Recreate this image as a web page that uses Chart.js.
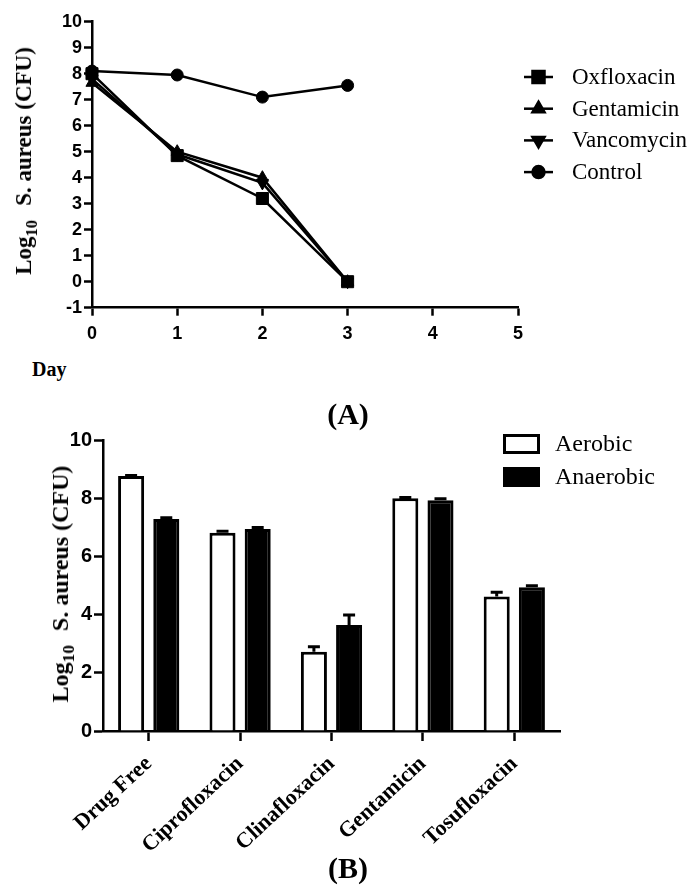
<!DOCTYPE html>
<html>
<head>
<meta charset="utf-8">
<script src="https://cdn.jsdelivr.net/npm/chart.js@4.4.1/dist/chart.umd.min.js"></script>
<style>
  body { margin: 0; background: #fff; width: 694px; height: 892px; position: relative; overflow: hidden; font-family: "Liberation Serif", serif; color: #000; }
  canvas { position: absolute; left: 0; }
  .ytitle { position: absolute; transform: translate(-50%, -50%) rotate(-90deg); white-space: nowrap; font-weight: bold; font-size: 23px; line-height: 24px; }
  .ytitle sub { font-size: 0.72em; vertical-align: -0.35em; line-height: 0; margin-right: 14px; }
  .label { position: absolute; font-weight: bold; white-space: nowrap; }
</style>
</head>
<body>
<canvas id="chartA" width="694" height="350" style="top:0"></canvas>
<canvas id="chartB" width="694" height="440" style="top:420px"></canvas>

<div class="ytitle" style="left:24px; top:161px;">Log<sub>10</sub>S. aureus (CFU)</div>
<div class="label" style="left:32px; top:359px; font-size:20px; line-height:20px;">Day</div>
<div class="label" style="left:298px; top:398px; width:100px; text-align:center; font-size:30px; line-height:32px;">(A)</div>

<div class="ytitle" style="left:60px; top:584px; font-size:24px;">Log<sub>10</sub>S. aureus (CFU)</div>
<div class="label" style="left:298px; top:852px; width:100px; text-align:center; font-size:30px; line-height:32px;">(B)</div>

<script>
"use strict";

// ---- chart A: time course ----
const days = [0, 1, 2, 3];
const oxfloxacin = [8.0, 4.85, 3.2, 0];
const gentamicin = [7.65, 5.0, 4.0, 0];
const vancomycin = [7.8, 4.9, 3.8, 0];
const control = [8.1, 7.95, 7.1, 7.55];

// ---- chart B: aerobic vs anaerobic ----
const drugs = ["Drug Free", "Ciprofloxacin", "Clinafloxacin", "Gentamicin", "Tosufloxacin"];
const aerobic = [8.78, 6.83, 2.73, 8.02, 4.63];
const aerobicErr = [0.02, 0.05, 0.17, 0.02, 0.15];
const anaerobic = [7.3, 6.96, 3.65, 7.95, 4.95];
const anaerobicErr = [0.05, 0.05, 0.35, 0.05, 0.05];

const tickFont = { family: "Liberation Sans", weight: "bold", size: 18 };
const serif = "Liberation Serif";

const toPoints = (vals) => days.map((d, i) => ({ x: d, y: vals[i] }));

function lineSet(label, vals, style, radius, rotation) {
  return {
    label: label,
    data: toPoints(vals),
    borderColor: "#000",
    backgroundColor: "#000",
    borderWidth: 2.5,
    pointStyle: style,
    pointRadius: radius,
    pointRotation: rotation || 0,
    pointBorderWidth: 1,
    tension: 0,
    clip: false,
  };
}

// legend drawn at the right, line + marker like the original figure
const lineLegend = {
  id: "lineLegend",
  afterDraw(chart) {
    const ctx = chart.ctx;
    const x0 = 524, x1 = 553, tx = 572, y0 = 77, dy = 31.7;
    ctx.save();
    chart.data.datasets.forEach((ds, i) => {
      const y = y0 + i * dy;
      ctx.strokeStyle = "#000";
      ctx.lineWidth = 2.5;
      ctx.beginPath();
      ctx.moveTo(x0, y);
      ctx.lineTo(x1, y);
      ctx.stroke();
      ctx.fillStyle = "#000";
      Chart.helpers.drawPoint(ctx, {
        pointStyle: ds.pointStyle,
        radius: ds.pointRadius,
        rotation: ds.pointRotation,
        borderWidth: 1,
      }, (x0 + x1) / 2, y);
      ctx.font = "23px " + serif;
      ctx.textAlign = "left";
      ctx.textBaseline = "middle";
      ctx.fillText(ds.label, tx, y + 1);
    });
    ctx.restore();
  },
};

new Chart(document.getElementById("chartA"), {
  type: "line",
  data: {
    datasets: [
      lineSet("Oxfloxacin", oxfloxacin, "rect", 8.5),
      lineSet("Gentamicin", gentamicin, "triangle", 7),
      lineSet("Vancomycin", vancomycin, "triangle", 7, 180),
      lineSet("Control", control, "circle", 6),
    ],
  },
  options: {
    responsive: false,
    animation: false,
    layout: { autoPadding: false, padding: { top: 21.7, right: 176, left: 0, bottom: 0 } },
    plugins: { legend: { display: false }, tooltip: { enabled: false } },
    scales: {
      x: {
        type: "linear",
        min: 0,
        max: 5,
        afterFit: (s) => { s.height = 42.3; },
        ticks: { stepSize: 1, color: "#000", font: tickFont, padding: 8 },
        grid: { drawOnChartArea: false, tickLength: 8, tickWidth: 2.5, tickColor: "#000" },
        border: { color: "#000", width: 2.5 },
      },
      y: {
        min: -1,
        max: 10,
        afterFit: (s) => { s.width = 92; },
        ticks: { stepSize: 1, color: "#000", font: tickFont, padding: 2 },
        grid: { drawOnChartArea: false, tickLength: 8, tickWidth: 2.5, tickColor: "#000" },
        border: { color: "#000", width: 2.5 },
      },
    },
  },
  plugins: [lineLegend],
});

// error bars (upper half only) drawn on top of each bar
const errorBars = {
  id: "errorBars",
  afterDatasetsDraw(chart) {
    const ctx = chart.ctx;
    const yScale = chart.scales.y;
    ctx.save();
    ctx.strokeStyle = "#000";
    ctx.lineWidth = 3;
    chart.data.datasets.forEach((ds, i) => {
      chart.getDatasetMeta(i).data.forEach((bar, j) => {
        const top = yScale.getPixelForValue(ds.data[j] + ds.errors[j]);
        ctx.beginPath();
        ctx.moveTo(bar.x, bar.y);
        ctx.lineTo(bar.x, top);
        ctx.moveTo(bar.x - 6, top);
        ctx.lineTo(bar.x + 6, top);
        ctx.stroke();
      });
    });
    ctx.restore();
  },
};

const boxLegend = {
  id: "boxLegend",
  afterDraw(chart) {
    const ctx = chart.ctx;
    const bx = 504.5, bw = 34, bh = 17, tx = 555, rows = [24, 57];
    ctx.save();
    chart.data.datasets.forEach((ds, i) => {
      const y = rows[i];
      ctx.fillStyle = ds.backgroundColor;
      ctx.strokeStyle = "#000";
      ctx.lineWidth = 3;
      ctx.fillRect(bx, y - bh / 2, bw, bh);
      ctx.strokeRect(bx, y - bh / 2, bw, bh);
      ctx.fillStyle = "#000";
      ctx.font = "24px " + serif;
      ctx.textAlign = "left";
      ctx.textBaseline = "middle";
      ctx.fillText(ds.label, tx, y + 1);
    });
    ctx.restore();
  },
};

new Chart(document.getElementById("chartB"), {
  type: "bar",
  data: {
    labels: drugs,
    datasets: [
      { label: "Aerobic", data: aerobic, errors: aerobicErr, backgroundColor: "#fff", borderColor: "#000", borderWidth: 3 },
      { label: "Anaerobic", data: anaerobic, errors: anaerobicErr, backgroundColor: "#000", borderColor: "#000", borderWidth: 3 },
    ],
  },
  options: {
    responsive: false,
    animation: false,
    categoryPercentage: 0.77,
    barPercentage: 0.74,
    layout: { autoPadding: false, padding: { top: 20.7, right: 134, left: 0, bottom: 0 } },
    plugins: { legend: { display: false }, tooltip: { enabled: false } },
    scales: {
      x: {
        afterFit: (s) => { s.height = 129; },
        ticks: { color: "#000", font: { family: serif, weight: "bold", size: 22 }, minRotation: 43, maxRotation: 43, padding: 10 },
        grid: { offset: false, drawOnChartArea: false, tickLength: 10, tickWidth: 2.5, tickColor: "#000" },
        border: { color: "#000", width: 2.5 },
      },
      y: {
        min: 0,
        max: 10,
        afterFit: (s) => { s.width = 103; },
        ticks: { stepSize: 2, color: "#000", font: { family: "Liberation Sans", weight: "bold", size: 20 }, padding: 2 },
        grid: { drawOnChartArea: false, tickLength: 9, tickWidth: 2.5, tickColor: "#000" },
        border: { color: "#000", width: 2.5 },
      },
    },
  },
  plugins: [errorBars, boxLegend],
});
</script>
</body>
</html>
